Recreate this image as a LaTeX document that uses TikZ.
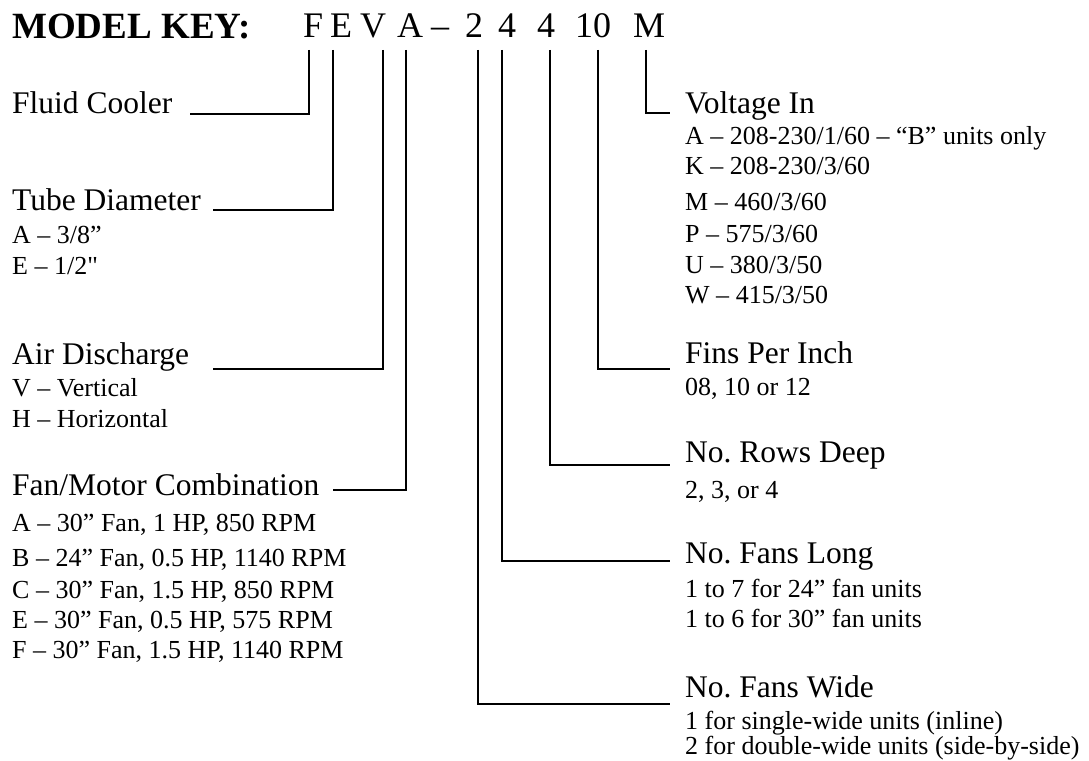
\documentclass[tikz,border=0pt]{standalone}
\usepackage{fontspec}
\setmainfont{Liberation Serif}[Ligatures=TeXOff]
\frenchspacing
\begin{document}
\begin{tikzpicture}[x=1bp,y=-1bp,
  title/.style={anchor=base west, inner sep=0pt, font=\fontsize{37bp}{37bp}\selectfont\bfseries},
  keyl/.style={anchor=base west, inner sep=0pt, font=\fontsize{36bp}{36bp}\selectfont},
  head/.style={anchor=base west, inner sep=0pt, font=\fontsize{31.5bp}{31.5bp}\selectfont},
  item/.style={anchor=base west, inner sep=0pt, font=\fontsize{26bp}{26bp}\selectfont},
  conn/.style={line width=1.6bp, line cap=butt, line join=miter}]
\useasboundingbox (0,0) rectangle (1089,761);
% title and key
\node[title] (ttl) at (12,39) {MODEL KEY:};
\node[keyl] (kF) at (303,38) {F};
\node[keyl] (kE) at (330,38) {E};
\node[keyl] (kV) at (360,38) {V};
\node[keyl] (kA) at (397,38) {A};
\node[keyl] (kD) at (431,38) {–};
\node[keyl] (k2) at (465,38) {2};
\node[keyl] (k4a) at (498,38) {4};
\node[keyl] (k4b) at (537,38) {4};
\node[keyl] (k10) at (575,38) {10};
\node[keyl] (kM) at (633,38) {M};
% connector tops
\coordinate (tF) at (309,50);
\coordinate (tE) at (333,50);
\coordinate (tV) at (383,50);
\coordinate (tA) at (406,50);
\coordinate (t2) at (478,50);
\coordinate (t4a) at (502,50);
\coordinate (t4b) at (550,50);
\coordinate (t10) at (598,50);
\coordinate (tM) at (646,50);
% left column
\node[head] (fluid) at (12,113) {Fluid Cooler};
\coordinate (eF) at (190,114);
\node[head] (tube) at (12,210) {Tube Diameter};
\coordinate (eE) at (213,210);
\node[item] (tube1) at (12,243) {A – 3/8”};
\node[item] (tube2) at (12,274) {E – 1/2"};
\node[head] (air) at (12,364) {Air Discharge};
\coordinate (eV) at (213,369);
\node[item] (air1) at (12,396) {V – Vertical};
\node[item] (air2) at (12,427) {H – Horizontal};
\node[head] (fan) at (12,495) {Fan/Motor Combination};
\coordinate (eA) at (333,490);
\node[item] (fan1) at (12,531) {A – 30” Fan, 1 HP, 850 RPM};
\node[item] (fan2) at (12,566) {B – 24” Fan, 0.5 HP, 1140 RPM};
\node[item] (fan3) at (12,598) {C – 30” Fan, 1.5 HP, 850 RPM};
\node[item] (fan4) at (12,628) {E – 30” Fan, 0.5 HP, 575 RPM};
\node[item] (fan5) at (12,658) {F – 30” Fan, 1.5 HP, 1140 RPM};
% right column
\node[head] (volt) at (685,113) {Voltage In};
\coordinate (eM) at (670,113);
\node[item] (v1) at (685,144) {A – 208-230/1/60 – “B” units only};
\node[item] (v2) at (685,174) {K – 208-230/3/60};
\node[item] (v3) at (685,210) {M – 460/3/60};
\node[item] (v4) at (685,242) {P – 575/3/60};
\node[item] (v5) at (685,273) {U – 380/3/50};
\node[item] (v6) at (685,303) {W – 415/3/50};
\node[head] (fins) at (685,363) {Fins Per Inch};
\coordinate (e10) at (670,369);
\node[item] (fins1) at (685,395) {08, 10 or 12};
\node[head] (rows) at (685,462) {No. Rows Deep};
\coordinate (e4b) at (670,465);
\node[item] (rows1) at (685,498) {2, 3, or 4};
\node[head] (long) at (685,563) {No. Fans Long};
\coordinate (e4a) at (670,561);
\node[item] (long1) at (685,597) {1 to 7 for 24” fan units};
\node[item] (long2) at (685,627) {1 to 6 for 30” fan units};
\node[head] (wide) at (685,697) {No. Fans Wide};
\coordinate (e2) at (670,704);
\node[item] (wide1) at (685,729) {1 for single-wide units (inline)};
\node[item] (wide2) at (685,754) {2 for double-wide units (side-by-side)};
% connectors
\draw[conn] (tF) |- (eF);
\draw[conn] (tE) |- (eE);
\draw[conn] (tV) |- (eV);
\draw[conn] (tA) |- (eA);
\draw[conn] (t2) |- (e2);
\draw[conn] (t4a) |- (e4a);
\draw[conn] (t4b) |- (e4b);
\draw[conn] (t10) |- (e10);
\draw[conn] (tM) |- (eM);
\end{tikzpicture}
\end{document}
